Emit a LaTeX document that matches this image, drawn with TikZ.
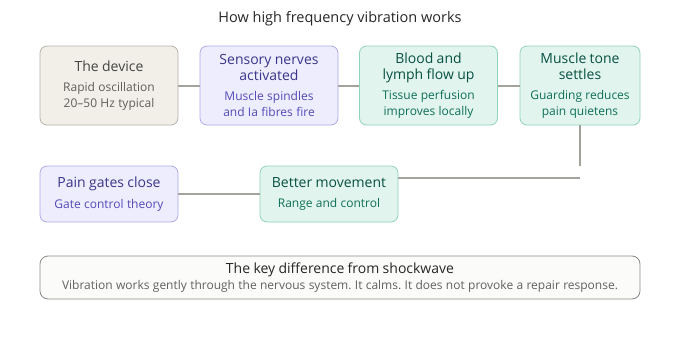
\documentclass[tikz,border=0pt]{standalone}
\usepackage{fontspec}
\setmainfont{Open Sans}
\usetikzlibrary{positioning}
\definecolor{DeviceFill}{HTML}{F1EFE8}
\definecolor{DeviceLine}{HTML}{B4B2A9}
\definecolor{DeviceHead}{HTML}{444441}
\definecolor{DeviceText}{HTML}{5F5E5A}
\definecolor{NerveFill}{HTML}{EEEDFE}
\definecolor{NerveLine}{HTML}{AFA9EC}
\definecolor{NerveHead}{HTML}{3C3489}
\definecolor{NerveText}{HTML}{534AB7}
\definecolor{FlowFill}{HTML}{E1F5EE}
\definecolor{FlowLine}{HTML}{8FD3B8}
\definecolor{FlowHead}{HTML}{085041}
\definecolor{FlowText}{HTML}{0F6E56}
\definecolor{LinkGray}{HTML}{A3A29D}
\definecolor{NoteLine}{HTML}{8C8B87}
\definecolor{NoteFill}{HTML}{FBFBF9}
\newcommand{\stagelabel}[4]{%
  {\color{#1}\fontsize{14}{16}\selectfont #3\par}\vspace{4.5pt}%
  {\color{#2}\fontsize{12}{16}\selectfont #4\par}}
\frenchspacing

\begin{document}
\begin{tikzpicture}[x=1pt,y=-1pt,
  stage/.style={draw,rounded corners=7pt,line width=0.8pt,minimum height=79pt,
    text width=134pt,align=center,inner sep=2pt},
  device/.style={stage,fill=DeviceFill,draw=DeviceLine},
  nerve/.style={stage,fill=NerveFill,draw=NerveLine},
  flow/.style={stage,fill=FlowFill,draw=FlowLine},
  link/.style={draw=LinkGray,line width=2pt}]
  \useasboundingbox (0,0) rectangle (680,340);
  \node[font=\fontsize{14.5}{16}\selectfont,text=black!85] (title) at (340,19)
    {How high frequency vibration works};
  % top row
  \node[device] (device) at (109,85.5)
    {\stagelabel{DeviceHead}{DeviceText}{The device}{Rapid oscillation\\20–50 Hz typical}};
  \node[nerve] (sensory) at (269,85.5)
    {\stagelabel{NerveHead}{NerveText}{Sensory nerves\\activated}{Muscle spindles\\and Ia fibres fire}};
  \node[flow] (blood) at (428.5,85.5)
    {\stagelabel{FlowHead}{FlowText}{Blood and\\lymph flow up}{Tissue perfusion\\improves locally}};
  \node[flow,text width=116pt] (muscle) at (580,85.5)
    {\stagelabel{FlowHead}{FlowText}{Muscle tone\\settles}{Guarding reduces\\pain quietens}};
  % second row
  \node[nerve,minimum height=56pt] (pain) at (109,194)
    {\stagelabel{NerveHead}{NerveText}{Pain gates close}{Gate control theory}};
  \node[flow,minimum height=56pt] (better) at (329,194)
    {\stagelabel{FlowHead}{FlowText}{Better movement}{Range and control}};
  \coordinate (drop) at (580,166);
  \coordinate (turn) at (580,178);
  \draw[link] (device) -- (sensory);
  \draw[link] (sensory) -- (blood);
  \draw[link] (blood) -- (muscle);
  \draw[link] (muscle) -- (drop);
  \draw[link] (turn) -- (turn -| better.east);
  \draw[link] (pain) -- (better);
  % note
  \node[draw=NoteLine,fill=NoteFill,rounded corners=8pt,line width=0.8pt,
    minimum width=600pt,minimum height=43pt,text width=596pt,align=center,inner sep=2pt] (note) at (340,277.5)
    {{\color{black!85}\fontsize{14}{16}\selectfont The key difference from shockwave\par}%
     {\color{black!62}\fontsize{12}{15.5}\selectfont Vibration works gently through the nervous system. It calms. It does not provoke a repair response.\par}};
\end{tikzpicture}
\end{document}
